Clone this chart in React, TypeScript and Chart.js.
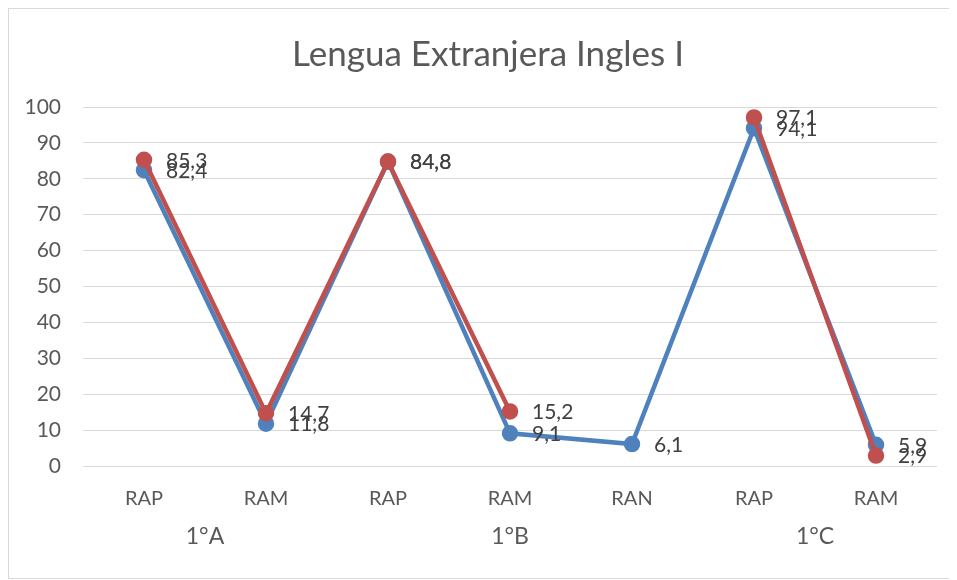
import React, { useEffect, useRef } from "react";
import { Chart, registerables } from "chart.js";
Chart.register(...registerables);

const chartTitle = "Lengua Extranjera Ingles I";
const categories = ["RAP", "RAM", "RAP", "RAM", "RAN", "RAP", "RAM"];
const groupLabels = ["1°A", "1°B", "1°C"];
const groupFirst = [0, 2, 5];
const groupLast = [1, 4, 6];
const seriesBlue = [82.4, 11.8, 84.8, 9.1, 6.1, 94.1, 5.9];
const seriesRed = [85.3, 14.7, 84.8, 15.2, null, 97.1, 2.9];
const yMin = 0;
const yMax = 100;
const yStep = 10;

const FONT = "Lato, 'Open Sans', sans-serif";
const FONT_CANVAS = "Lato, 'Open Sans', sans-serif";

const fmt = (v: number) => v.toFixed(1).replace(".", ",");

const overlayPlugin = {
  id: "overlay",
  afterDatasetsDraw(chart: any) {
    const ctx = chart.ctx;
    ctx.save();
    ctx.font = `21px ${FONT_CANVAS}`;
    ctx.fillStyle = "#404040";
    ctx.textAlign = "left";
    ctx.textBaseline = "middle";
    chart.data.datasets.forEach((ds: any, di: number) => {
      const meta = chart.getDatasetMeta(di);
      meta.data.forEach((pt: any, i: number) => {
        const v = ds.data[i];
        if (v === null || v === undefined) return;
        ctx.fillText(fmt(v), pt.x + 22, pt.y + 1);
      });
    });
    ctx.restore();
  },
  afterDraw(chart: any) {
    const ctx = chart.ctx;
    const xs = chart.scales.x;
    const area = chart.chartArea;
    ctx.save();
    ctx.fillStyle = "#595959";
    ctx.textAlign = "center";
    ctx.textBaseline = "middle";
    ctx.font = `23px ${FONT_CANVAS}`;
    groupLabels.forEach((g, i) => {
      const x = (xs.getPixelForValue(groupFirst[i]) + xs.getPixelForValue(groupLast[i])) / 2;
      ctx.fillText(g, x, area.bottom + 71);
    });
    ctx.font = `35px ${FONT_CANVAS}`;
    ctx.fillText(chartTitle, 479, 46);
    ctx.restore();
  },
};

export default function App() {
  const ref = useRef<HTMLCanvasElement | null>(null);
  useEffect(() => {
    if (!ref.current) return;
    const chart = new Chart(ref.current, {
      type: "line",
      data: {
        labels: categories,
        datasets: [
          {
            label: "Serie 1",
            data: seriesBlue,
            borderColor: "#4F81BD",
            backgroundColor: "#4F81BD",
            pointBackgroundColor: "#4F81BD",
            pointBorderColor: "#4F81BD",
            borderWidth: 4.5,
            pointRadius: 6,
            tension: 0,
            order: 2,
          },
          {
            label: "Serie 2",
            data: seriesRed,
            borderColor: "#C0504D",
            backgroundColor: "#C0504D",
            pointBackgroundColor: "#C0504D",
            pointBorderColor: "#C0504D",
            borderWidth: 4.5,
            pointRadius: 6,
            tension: 0,
            spanGaps: false,
            order: 1,
          },
        ],
      },
      options: {
        animation: false,
        responsive: true,
        maintainAspectRatio: false,
        layout: { padding: { left: 0, right: 13, top: 98, bottom: 60 } },
        plugins: {
          legend: { display: false },
          title: { display: false },
          tooltip: { enabled: false },
        },
        scales: {
          x: {
            offset: true,
            grid: { display: false, drawTicks: false, offset: true },
            border: { display: false },
            ticks: {
              color: "#595959",
              font: { family: FONT, size: 20 },
              padding: 21,
              maxRotation: 0,
              autoSkip: false,
            },
            afterFit: (s: any) => {
              s.height = 52;
            },
          },
          y: {
            min: yMin,
            max: yMax,
            grid: { color: "#d9d9d9", lineWidth: 1, drawTicks: false },
            border: { display: false },
            ticks: {
              stepSize: yStep,
              color: "#595959",
              font: { family: FONT, size: 21 },
              padding: 22,
            },
            afterFit: (s: any) => {
              s.width = 74;
            },
          },
        },
      },
      plugins: [overlayPlugin],
    });
    return () => chart.destroy();
  }, []);
  return (
    <div
      style={{
        width: 943,
        height: 571,
        border: "1px solid #d9d9d9",
        boxSizing: "border-box",
        background: "#fff",
        position: "relative",
      }}
    >
      <canvas ref={ref} />
    </div>
  );
}
